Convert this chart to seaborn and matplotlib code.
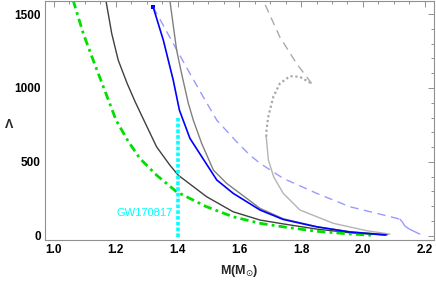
import matplotlib
matplotlib.use("Agg")
import matplotlib.pyplot as plt
from matplotlib.ticker import MultipleLocator
import seaborn as sns
import pandas as pd

# ---- data ----
green_M = [1.062, 1.095, 1.127, 1.160, 1.201, 1.240, 1.278, 1.332, 1.397, 1.494, 1.580, 1.667, 1.742, 1.85, 1.958, 2.03]
green_L = [1594, 1368, 1188, 1007, 782, 640, 523, 410, 297, 196, 128, 84, 60, 30, 12, 3]

dark_M = [1.168, 1.187, 1.208, 1.237, 1.262, 1.288, 1.332, 1.375, 1.402, 1.494, 1.580, 1.667, 1.742, 1.85, 1.958, 2.07]
dark_L = [1594, 1368, 1188, 1030, 910, 795, 602, 478, 410, 264, 162, 106, 80, 45, 20, 5]

blue_M = [1.321, 1.354, 1.386, 1.406, 1.44, 1.489, 1.527, 1.580, 1.667, 1.742, 1.85, 1.958, 2.075]
blue_L = [1548, 1323, 1053, 850, 659, 500, 377, 287, 174, 110, 60, 25, 5]

gray_M = [1.375, 1.397, 1.413, 1.435, 1.451, 1.478, 1.516, 1.559, 1.667, 1.742, 1.85, 1.958, 2.08]
gray_L = [1594, 1256, 1098, 895, 782, 625, 444, 354, 185, 115, 62, 27, 7]

lg_solid_M = [2.087, 2.012, 1.904, 1.796, 1.742, 1.711, 1.694, 1.687]
lg_solid_L = [11, 34, 84, 174, 287, 399, 512, 670]
lg_dotted_M = [1.687, 1.688, 1.693, 1.699, 1.710, 1.731, 1.764, 1.796, 1.834]
lg_dotted_L = [670, 715, 800, 850, 940, 1030, 1080, 1075, 1030]
lg_dashed_M = [1.834, 1.785, 1.731, 1.677]
lg_dashed_L = [1030, 1166, 1345, 1594]

lb_dashed_M = [1.321, 1.386, 1.44, 1.483, 1.527, 1.591, 1.634, 1.667, 1.742, 1.850, 1.958, 2.109, 2.120]
lb_dashed_L = [1548, 1301, 1098, 940, 782, 636, 546, 490, 388, 287, 196, 118, 111]
lb_tail_M = [2.120, 2.127, 2.136, 2.150, 2.184]
lb_tail_L = [111, 95, 65, 45, 11]

gw_M = [1.4, 1.4]
gw_L = [-10, 805]
gw_label = "GW170817"

x_ticks = [1.0, 1.2, 1.4, 1.6, 1.8, 2.0, 2.2]
y_ticks = [0, 500, 1000, 1500]

# ---- figure ----
sns.set_theme(style="white")
plt.rcParams['font.family'] = ['Liberation Sans', 'DejaVu Sans']

fig = plt.figure(figsize=(4.36, 2.81), dpi=100)
ax = fig.add_axes([45/436, 1 - 240/281, (434-45)/436, 239.5/281])

def line(M, L, **kw):
    df = pd.DataFrame({"M": M, "L": L})
    sns.lineplot(data=df, x="M", y="L", sort=False, estimator=None, ax=ax, **kw)

line(lg_solid_M, lg_solid_L, color="#b4b4b4", lw=1.0)
line(lg_dotted_M, lg_dotted_L, color="#a8a8a8", lw=1.6, linestyle=(0, (1, 1.2)))
line(lg_dashed_M, lg_dashed_L, color="#aaaaaa", lw=1.0, linestyle=(0, (6, 4)))
line(lb_dashed_M, lb_dashed_L, color="#9a9aff", lw=1.0, linestyle=(0, (6, 4)))
line(lb_tail_M, lb_tail_L, color="#9a9aff", lw=1.0)
line(gray_M, gray_L, color="#808080", lw=1.0)
line(dark_M, dark_L, color="#404040", lw=1.0)
line(green_M, green_L, color="#00e000", lw=2.0, linestyle=(0, (3, 1.5, 1, 1.5)))
line(blue_M, blue_L, color="#0000ff", lw=1.2)
sns.scatterplot(x=blue_M[:1], y=blue_L[:1], color="#0000ff", s=6, marker="s", edgecolor="none", ax=ax)
line(gw_M, gw_L, color="#00ffff", lw=2.6, linestyle=(0, (1, 0.6)))

ax.text(1.385, 155, gw_label, color="#00ffff", fontsize=8, ha="right", va="center")

ax.set_xlim(0.971, 2.23)
ax.set_ylim(-29, 1592)
ax.set_xticks(x_ticks)
ax.set_yticks(y_ticks)
ax.set_xticklabels([f"{v:.1f}" for v in x_ticks], fontweight="bold", fontsize=8.5)
ax.set_yticklabels([str(v) for v in y_ticks], fontweight="bold", fontsize=8.5)
ax.xaxis.set_minor_locator(MultipleLocator(0.05))
ax.yaxis.set_minor_locator(MultipleLocator(100))
ax.tick_params(which="both", direction="in", top=True, right=True, color="#909090", width=0.7)
ax.tick_params(which="major", length=4, pad=3, labelcolor="black")
ax.tick_params(which="minor", length=2.2)
for s in ax.spines.values():
    s.set_color("#909090")
    s.set_linewidth(0.8)

ax.set_xlabel(r"M(M$_{\odot}$)", fontweight="bold", fontsize=9, va="center")
ax.set_ylabel("Λ", fontweight="bold", fontsize=9, rotation=0, va="center", ha="center")
ax.xaxis.set_label_coords(0.5, -0.128)
ax.yaxis.set_label_coords(-0.093, 0.48)

fig.savefig("out.png", dpi=100)
